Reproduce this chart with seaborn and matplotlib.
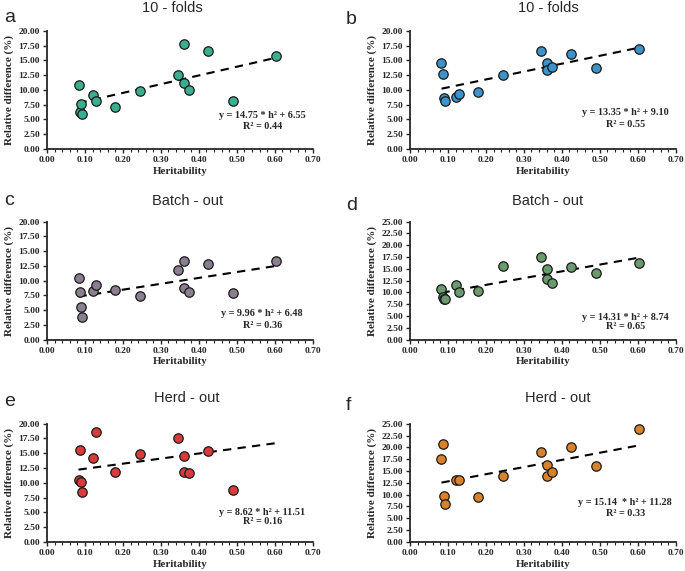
import numpy as np
import pandas as pd
import seaborn as sns
import matplotlib.pyplot as plt
from matplotlib.ticker import MultipleLocator, FormatStrFormatter

# heritability of the traits (shared by all panels)
herit = [0.083, 0.088, 0.090, 0.091, 0.120, 0.130, 0.180, 0.245,
         0.345, 0.360, 0.361, 0.373, 0.425, 0.490, 0.602]

# relative difference (%) per panel
rel_a = [10.9, 6.3, 7.6, 6.0, 9.2, 8.2, 7.1, 9.9, 12.5, 17.8, 11.1, 10.0, 16.6, 8.2, 15.8]
rel_b = [14.6, 12.7, 8.6, 8.2, 8.8, 9.3, 9.6, 12.5, 16.6, 14.5, 13.3, 13.9, 16.1, 13.7, 17.0]
rel_c = [10.4, 8.0, 5.5, 3.8, 8.2, 9.2, 8.5, 7.4, 11.8, 13.3, 8.8, 8.0, 12.8, 7.9, 13.4]
rel_d = [10.8, 9.0, 8.7, 8.6, 11.5, 10.0, 10.4, 15.5, 17.5, 15.0, 12.8, 12.1, 15.3, 14.2, 16.3]
rel_e = [10.5, 15.6, 10.1, 8.5, 14.2, 18.6, 11.9, 14.9, 17.5, 14.5, 11.8, 11.6, 15.4, 8.7, np.nan]
rel_f = [17.5, 20.6, 9.8, 8.1, 13.1, 13.1, 9.4, 14.0, 19.0, 16.2, 14.0, 14.8, 20.0, 16.0, 23.9]

titles = ["10 - folds", "10 - folds", "Batch - out", "Batch - out", "Herd - out", "Herd - out"]
letters = ["a", "b", "c", "d", "e", "f"]
slopes = [14.75, 13.35, 9.96, 14.31, 8.62, 15.14]
intercepts = [6.55, 9.10, 6.48, 8.74, 11.51, 11.28]
r2 = [0.44, 0.55, 0.36, 0.65, 0.16, 0.33]
eq_labels = ["y = 14.75 * h\u00b2 + 6.55", "y = 13.35 * h\u00b2 + 9.10",
             "y = 9.96 * h\u00b2 + 6.48", "y = 14.31 * h\u00b2 + 8.74",
             "y = 8.62 * h\u00b2 + 11.51", "y = 15.14  * h\u00b2 + 11.28"]
ymax = [20, 20, 20, 25, 20, 25]
colors = ["#3aae8e", "#3b93c9", "#8a7f8f", "#6a9a6d", "#d93b3b", "#d9822c"]

values = [rel_a, rel_b, rel_c, rel_d, rel_e, rel_f]

sns.set_style("ticks")
plt.rcParams['font.family'] = ['Liberation Serif', 'DejaVu Serif']
plt.rcParams['font.weight'] = 'bold'

W, H = 685, 571
fig = plt.figure(figsize=(W / 100, H / 100), dpi=100)

lefts = [0.0686, 0.5985]
bottoms = [0.739, 0.405, 0.051]
w, h = 0.388, 0.207
eq_y = [(0.28, 0.19), (0.305, 0.205), (0.22, 0.12), (0.19, 0.11), (0.25, 0.17), (0.33, 0.24)]
# title and panel-letter centres, in pixels from the top-left
title_xy = [(172, 8), (548, 8), (188, 201), (548, 201), (187, 398), (558, 398)]
letter_xy = [(4, 17), (346, 19), (4, 201), (346, 205), (4, 402), (346, 405)]

for i in range(6):
    ax = fig.add_axes([lefts[i % 2], bottoms[i // 2], w, h])
    df = pd.DataFrame({"h2": herit, "rd": values[i]}).dropna()

    # trend line from the reported regression
    xs = np.array([min(herit), max(herit)])
    line = pd.DataFrame({"h2": xs, "fit": slopes[i] * xs + intercepts[i]})
    sns.lineplot(data=line, x="h2", y="fit", ax=ax, color="black",
                 linestyle=(0, (4, 3)), linewidth=1.5, zorder=2)
    sns.scatterplot(data=df, x="h2", y="rd", ax=ax, color=colors[i], s=46,
                    edgecolor="#1a1a1a", linewidth=0.9, zorder=3)

    ax.set_xlim(0, 0.70)
    ax.set_ylim(0, ymax[i])
    ax.xaxis.set_major_locator(MultipleLocator(0.1))
    ax.xaxis.set_minor_locator(MultipleLocator(0.02))
    ax.yaxis.set_major_locator(MultipleLocator(2.5))
    ax.xaxis.set_major_formatter(FormatStrFormatter("%.2f"))
    ax.yaxis.set_major_formatter(FormatStrFormatter("%.2f"))
    ax.tick_params(axis="both", which="major", labelsize=6.8, length=3, width=1, pad=2)
    ax.tick_params(axis="x", which="minor", length=2, width=0.8)
    for sp in ["left", "bottom"]:
        ax.spines[sp].set_linewidth(1.3)
    sns.despine(ax=ax)

    ax.set_xlabel("Heritability", fontsize=7.8, fontweight="bold", labelpad=2)
    ax.set_ylabel("Relative difference (%)", fontsize=8, fontweight="bold", labelpad=3)

    ax.text(0.81, eq_y[i][0], eq_labels[i], transform=ax.transAxes, ha="center",
            va="center", fontsize=7.3, fontweight="bold")
    ax.text(0.81, eq_y[i][1], "R\u00b2 = %.2f" % r2[i], transform=ax.transAxes,
            ha="center", va="center", fontsize=7.3, fontweight="bold")

    tx, ty = title_xy[i]
    fig.text(tx / W, 1 - ty / H, titles[i], fontsize=10.5, fontweight="normal",
             family=["Liberation Sans", "DejaVu Sans"], ha="center", va="center")
    lx, ly = letter_xy[i]
    fig.text(lx / W, 1 - ly / H, letters[i], fontsize=14, fontweight="normal",
             family=["Liberation Sans", "DejaVu Sans"], ha="left", va="center")

fig.savefig("out.png", dpi=100)
